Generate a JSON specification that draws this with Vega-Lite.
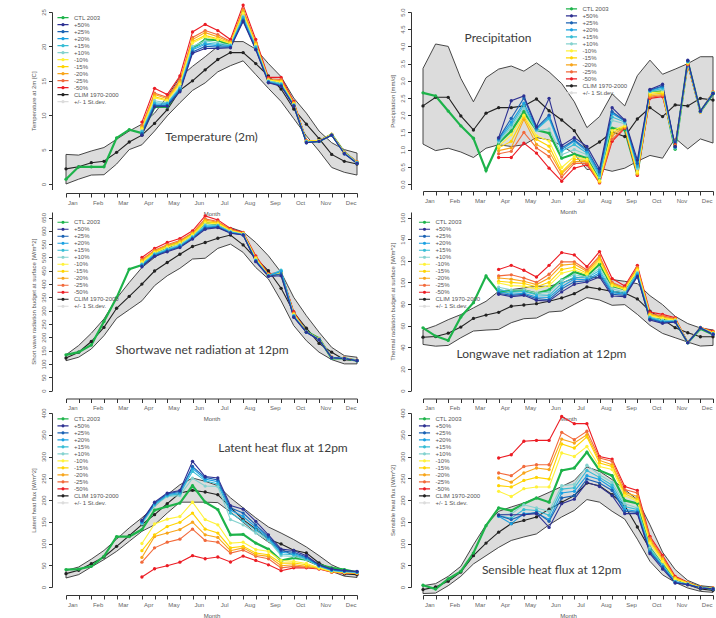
{
"$schema": "https://vega.github.io/schema/vega-lite/v6.json",
"padding": {"left": 30, "top": 2, "right": 0, "bottom": 0},
"background": "white",
"datasets": {
"t": [
{"x":1,"c":0.7,"m":2.2,"lo":0,"hi":4.3},
{"x":2,"c":2.5,"m":2.5,"lo":0.7,"hi":4.2},
{"x":3,"c":2.5,"m":3.1,"lo":1.3,"hi":4.8},
{"x":4,"c":2.5,"m":3.3,"lo":1.35,"hi":5.3},
{"x":5,"c":6.7,"m":4.6,"lo":2.9,"hi":6.5},
{"x":6,"c":7.9,"m":6.1,"lo":5.0,"hi":7.7},
{"x":7,"c":7.4,"m":7.1,"lo":5.7,"hi":8.7,"-50%":9.0,"-25%":8.5,"-20%":8.3,"-15%":8.1,"-10%":8.0,"+10%":7.7,"+15%":7.6,"+20%":7.4,"+25%":7.3,"+50%":7.1},
{"x":8,"c":11.2,"m":8.8,"lo":7.7,"hi":10.3,"-50%":13.9,"-25%":13.2,"-20%":13.0,"-15%":12.7,"-10%":12.5,"+10%":12.1,"+15%":11.8,"+20%":11.6,"+25%":11.4,"+50%":11.2},
{"x":9,"c":11.2,"m":10.8,"lo":9.9,"hi":12.7,"-50%":13.0,"-25%":12.6,"-20%":12.4,"-15%":12.2,"-10%":12.1,"+10%":11.8,"+15%":11.7,"+20%":11.6,"+25%":11.4,"+50%":11.3},
{"x":10,"c":13.8,"m":13.6,"lo":11.8,"hi":15.5,"-50%":15.7,"-25%":15.1,"-20%":14.9,"-15%":14.7,"-10%":14.5,"+10%":14.1,"+15%":13.9,"+20%":13.8,"+25%":13.6,"+50%":13.4},
{"x":11,"c":19.7,"m":15.0,"lo":13.6,"hi":17.1,"-50%":22.1,"-25%":21.3,"-20%":21.0,"-15%":20.7,"-10%":20.5,"+10%":20.0,"+15%":19.7,"+20%":19.5,"+25%":19.2,"+50%":19.0},
{"x":12,"c":21.0,"m":16.6,"lo":14.7,"hi":18.5,"-50%":23.2,"-25%":22.3,"-20%":22.0,"-15%":21.6,"-10%":21.4,"+10%":20.8,"+15%":20.5,"+20%":20.3,"+25%":20.0,"+50%":19.7},
{"x":13,"c":20.9,"m":18.1,"lo":16.3,"hi":20.0,"-50%":22.3,"-25%":21.7,"-20%":21.4,"-15%":21.1,"-10%":21.0,"+10%":20.5,"+15%":20.3,"+20%":20.1,"+25%":19.9,"+50%":19.7},
{"x":14,"c":20.2,"m":19.1,"lo":17.2,"hi":20.7,"-50%":21.0,"-25%":20.7,"-20%":20.6,"-15%":20.5,"-10%":20.4,"+10%":20.2,"+15%":20.1,"+20%":20.0,"+25%":19.9,"+50%":19.8},
{"x":15,"c":25.0,"m":19.1,"lo":17.9,"hi":20.7,"-50%":26.0,"-25%":25.4,"-20%":25.2,"-15%":24.9,"-10%":24.8,"+10%":24.4,"+15%":24.2,"+20%":24.0,"+25%":23.8,"+50%":23.6},
{"x":16,"c":20.0,"m":17.5,"lo":15.9,"hi":19.6,"-50%":21.0,"-25%":20.6,"-20%":20.5,"-15%":20.3,"-10%":20.2,"+10%":20.0,"+15%":19.9,"+20%":19.7,"+25%":19.6,"+50%":19.5},
{"x":17,"c":15.2,"m":15.7,"lo":13.9,"hi":17.5,"-50%":15.5,"-25%":15.3,"-20%":15.2,"-15%":15.1,"-10%":15.1,"+10%":15.0,"+15%":14.9,"+20%":14.8,"+25%":14.8,"+50%":14.7},
{"x":18,"c":14.6,"m":13.8,"lo":12.0,"hi":15.6,"-50%":15.5,"-25%":15.2,"-20%":15.0,"-15%":14.9,"-10%":14.8,"+10%":14.6,"+15%":14.5,"+20%":14.4,"+25%":14.3,"+50%":14.2},
{"x":19,"c":11.5,"m":10.9,"lo":9.5,"hi":12.5,"-50%":12.0,"-25%":11.8,"-20%":11.8,"-15%":11.7,"-10%":11.6,"+10%":11.5,"+15%":11.5,"+20%":11.4,"+25%":11.4,"+50%":11.3},
{"x":20,"c":6.2,"m":8.7,"lo":7.0,"hi":10.3,"-50%":6.3,"-25%":6.3,"-20%":6.2,"-15%":6.2,"-10%":6.2,"+10%":6.1,"+15%":6.1,"+20%":6.1,"+25%":6.0,"+50%":6.0},
{"x":21,"c":6.2,"m":6.6,"lo":4.8,"hi":7.7,"-50%":6.3,"-25%":6.3,"-20%":6.3,"-15%":6.3,"-10%":6.3,"+10%":6.2,"+15%":6.2,"+20%":6.2,"+25%":6.2,"+50%":6.2},
{"x":22,"c":7.2,"m":4.3,"lo":2.4,"hi":6.0,"-50%":7.2,"-25%":7.2,"-20%":7.2,"-15%":7.2,"-10%":7.2,"+10%":7.1,"+15%":7.1,"+20%":7.1,"+25%":7.1,"+50%":7.1},
{"x":23,"c":4.6,"m":3.3,"lo":1.7,"hi":5.0,"-50%":4.6,"-25%":4.6,"-20%":4.6,"-15%":4.5,"-10%":4.5,"+10%":4.5,"+15%":4.5,"+20%":4.4,"+25%":4.4,"+50%":4.4},
{"x":24,"c":3.1,"m":2.9,"lo":1.3,"hi":4.5,"-50%":3.2,"-25%":3.2,"-20%":3.2,"-15%":3.1,"-10%":3.1,"+10%":3.1,"+15%":3.1,"+20%":3.0,"+25%":3.0,"+50%":3.0}
],
"p": [
{"x":1,"c":2.65,"m":2.27,"lo":1.16,"hi":3.36},
{"x":2,"c":2.56,"m":2.52,"lo":0.97,"hi":4.07},
{"x":3,"c":2.12,"m":2.52,"lo":1.04,"hi":4.0},
{"x":4,"c":1.69,"m":1.98,"lo":0.93,"hi":3.07},
{"x":5,"c":1.33,"m":1.57,"lo":0.77,"hi":2.39},
{"x":6,"c":0.39,"m":2.06,"lo":1.04,"hi":3.09},
{"x":7,"c":1.19,"m":2.22,"lo":1.14,"hi":3.34,"+50%":1.35,"+25%":1.32,"+20%":1.3,"+15%":1.27,"+10%":1.22,"-10%":1.1,"-15%":1.05,"-20%":0.97,"-25%":0.88,"-50%":0.77},
{"x":8,"c":1.54,"m":2.22,"lo":1.09,"hi":3.43,"+50%":2.42,"+25%":1.91,"+20%":1.8,"+15%":1.72,"+10%":1.65,"-10%":1.43,"-15%":1.24,"-20%":1.05,"-25%":0.95,"-50%":0.77},
{"x":9,"c":2.1,"m":2.27,"lo":1.14,"hi":3.28,"+50%":2.56,"+25%":2.5,"+20%":2.35,"+15%":2.28,"+10%":2.2,"-10%":2.0,"-15%":1.95,"-20%":1.88,"-25%":1.5,"-50%":1.19},
{"x":10,"c":1.57,"m":2.47,"lo":1.35,"hi":3.52,"+50%":1.67,"+25%":1.63,"+20%":1.6,"+15%":1.58,"+10%":1.55,"-10%":1.4,"-15%":1.3,"-20%":1.15,"-25%":1.05,"-50%":0.9},
{"x":11,"c":1.48,"m":2.13,"lo":1.28,"hi":3.26,"+50%":2.49,"+25%":2.0,"+20%":1.95,"+15%":1.9,"+10%":1.6,"-10%":1.25,"-15%":1.1,"-20%":0.95,"-25%":0.8,"-50%":0.46},
{"x":12,"c":0.75,"m":1.86,"lo":1.12,"hi":2.92,"+50%":1.12,"+25%":1.05,"+20%":1.0,"+15%":0.95,"+10%":0.85,"-10%":0.48,"-15%":0.35,"-20%":0.3,"-25%":0.2,"-50%":0.08},
{"x":13,"c":0.87,"m":1.55,"lo":0.87,"hi":2.39,"+50%":1.35,"+25%":1.28,"+20%":1.25,"+15%":1.15,"+10%":1.0,"-10%":0.8,"-15%":0.72,"-20%":0.65,"-25%":0.6,"-50%":0.46},
{"x":14,"c":0.75,"m":0.99,"lo":0.42,"hi":1.64,"+50%":1.09,"+25%":1.0,"+20%":0.95,"+15%":0.9,"+10%":0.85,"-10%":0.72,"-15%":0.68,"-20%":0.65,"-25%":0.6,"-50%":0.56},
{"x":15,"c":0.13,"m":1.22,"lo":0.46,"hi":1.96,"+50%":0.44,"+25%":0.35,"+20%":0.3,"+15%":0.25,"+10%":0.2,"-10%":0.1,"-15%":0.08,"-20%":0.06,"-25%":0.05,"-50%":0.03},
{"x":16,"c":1.62,"m":1.51,"lo":0.37,"hi":2.62,"+50%":2.22,"+25%":2.1,"+20%":2.05,"+15%":1.95,"+10%":1.85,"-10%":1.55,"-15%":1.48,"-20%":1.4,"-25%":1.3,"-50%":1.24},
{"x":17,"c":1.57,"m":1.38,"lo":0.46,"hi":2.27,"+50%":1.86,"+25%":1.84,"+20%":1.83,"+15%":1.8,"+10%":1.75,"-10%":1.7,"-15%":1.68,"-20%":1.66,"-25%":1.64,"-50%":1.62},
{"x":18,"c":0.27,"m":1.89,"lo":0.66,"hi":3.15,"+50%":0.7,"+25%":0.6,"+20%":0.55,"+15%":0.5,"+10%":0.45,"-10%":0.35,"-15%":0.32,"-20%":0.3,"-25%":0.28,"-50%":0.25},
{"x":19,"c":2.68,"m":2.22,"lo":0.83,"hi":3.6,"+50%":2.75,"+25%":2.73,"+20%":2.72,"+15%":2.7,"+10%":2.69,"-10%":2.65,"-15%":2.6,"-20%":2.56,"-25%":2.52,"-50%":2.49},
{"x":20,"c":2.7,"m":1.96,"lo":0.75,"hi":3.19,"+50%":2.9,"+25%":2.85,"+20%":2.82,"+15%":2.78,"+10%":2.74,"-10%":2.68,"-15%":2.64,"-20%":2.6,"-25%":2.57,"-50%":2.54},
{"x":21,"c":1.01,"m":2.3,"lo":1.33,"hi":3.34,"+50%":1.09,"+25%":1.08,"+20%":1.07,"+15%":1.06,"+10%":1.05,"-10%":1.06,"-15%":1.08,"-20%":1.1,"-25%":1.12,"-50%":1.14},
{"x":22,"c":3.55,"m":2.27,"lo":1.02,"hi":3.5,"+50%":3.6,"+25%":3.58,"+20%":3.57,"+15%":3.56,"+10%":3.55,"-10%":3.53,"-15%":3.52,"-20%":3.5,"-25%":3.48,"-50%":3.47},
{"x":23,"c":2.1,"m":2.49,"lo":1.31,"hi":3.7,"+50%":2.12,"+25%":2.12,"+20%":2.11,"+15%":2.11,"+10%":2.11,"-10%":2.1,"-15%":2.1,"-20%":2.1,"-25%":2.1,"-50%":2.1},
{"x":24,"c":2.62,"m":2.44,"lo":1.19,"hi":3.7,"+50%":2.63,"+25%":2.63,"+20%":2.64,"+15%":2.64,"+10%":2.65,"-10%":2.66,"-15%":2.66,"-20%":2.67,"-25%":2.67,"-50%":2.68}
],
"sw": [
{"x":1,"c":134,"m":122,"lo":112,"hi":134},
{"x":2,"c":144,"m":144,"lo":125,"hi":169},
{"x":3,"c":171,"m":184,"lo":156,"hi":215},
{"x":4,"c":259,"m":237,"lo":206,"hi":269},
{"x":5,"c":349,"m":309,"lo":271,"hi":346},
{"x":6,"c":456,"m":354,"lo":304,"hi":406},
{"x":7,"c":471,"m":400,"lo":337,"hi":462,"-50%":500,"-25%":492,"-20%":489,"-15%":485,"-10%":482,"+10%":476,"+15%":473,"+20%":471,"+25%":468,"+50%":465},
{"x":8,"c":515,"m":449,"lo":394,"hi":500,"-50%":534,"-25%":527,"-20%":524,"-15%":521,"-10%":518,"+10%":514,"+15%":511,"+20%":509,"+25%":506,"+50%":504},
{"x":9,"c":540,"m":481,"lo":431,"hi":531,"-50%":556,"-25%":548,"-20%":545,"-15%":541,"-10%":538,"+10%":532,"+15%":529,"+20%":527,"+25%":524,"+50%":521},
{"x":10,"c":556,"m":512,"lo":459,"hi":562,"-50%":571,"-25%":564,"-20%":560,"-15%":557,"-10%":553,"+10%":548,"+15%":545,"+20%":542,"+25%":540,"+50%":537},
{"x":11,"c":587,"m":541,"lo":494,"hi":587,"-50%":600,"-25%":593,"-20%":590,"-15%":587,"-10%":584,"+10%":579,"+15%":576,"+20%":574,"+25%":571,"+50%":569},
{"x":12,"c":630,"m":556,"lo":497,"hi":609,"-50%":656,"-25%":645,"-20%":640,"-15%":635,"-10%":630,"+10%":622,"+15%":618,"+20%":614,"+25%":610,"+50%":606},
{"x":13,"c":625,"m":572,"lo":534,"hi":616,"-50%":641,"-25%":635,"-20%":632,"-15%":629,"-10%":626,"+10%":621,"+15%":619,"+20%":617,"+25%":614,"+50%":612},
{"x":14,"c":600,"m":584,"lo":550,"hi":612,"-50%":609,"-25%":605,"-20%":603,"-15%":601,"-10%":600,"+10%":597,"+15%":595,"+20%":594,"+25%":592,"+50%":591},
{"x":15,"c":588,"m":547,"lo":519,"hi":596,"-50%":594,"-25%":592,"-20%":591,"-15%":590,"-10%":589,"+10%":587,"+15%":586,"+20%":585,"+25%":585,"+50%":584},
{"x":16,"c":495,"m":496,"lo":462,"hi":556,"-50%":506,"-25%":501,"-20%":499,"-15%":497,"-10%":495,"+10%":491,"+15%":489,"+20%":488,"+25%":486,"+50%":484},
{"x":17,"c":432,"m":450,"lo":419,"hi":506,"-50%":438,"-25%":436,"-20%":435,"-15%":434,"-10%":433,"+10%":432,"+15%":432,"+20%":431,"+25%":430,"+50%":429},
{"x":18,"c":440,"m":384,"lo":337,"hi":444,"-50%":445,"-25%":444,"-20%":443,"-15%":442,"-10%":441,"+10%":448,"+15%":452,"+20%":447,"+25%":438,"+50%":431},
{"x":19,"c":285,"m":294,"lo":244,"hi":350,"-50%":296,"-25%":291,"-20%":289,"-15%":287,"-10%":285,"+10%":282,"+15%":280,"+20%":279,"+25%":277,"+50%":275},
{"x":20,"c":222,"m":234,"lo":187,"hi":281,"-50%":221,"-25%":221,"-20%":221,"-15%":220,"-10%":220,"+10%":220,"+15%":220,"+20%":219,"+25%":219,"+50%":219},
{"x":21,"c":196,"m":177,"lo":144,"hi":219,"-50%":194,"-25%":194,"-20%":194,"-15%":193,"-10%":193,"+10%":193,"+15%":192,"+20%":192,"+25%":191,"+50%":190},
{"x":22,"c":121,"m":144,"lo":116,"hi":162,"-50%":125,"-25%":125,"-20%":124,"-15%":124,"-10%":124,"+10%":124,"+15%":124,"+20%":123,"+25%":123,"+50%":123},
{"x":23,"c":121,"m":116,"lo":100,"hi":131,"-50%":122,"-25%":122,"-20%":122,"-15%":121,"-10%":121,"+10%":121,"+15%":121,"+20%":121,"+25%":120,"+50%":120},
{"x":24,"c":112,"m":112,"lo":100,"hi":125,"-50%":113,"-25%":113,"-20%":113,"-15%":112,"-10%":112,"+10%":112,"+15%":112,"+20%":112,"+25%":112,"+50%":112}
],
"lw": [
{"x":1,"c":58,"m":49.3,"lo":42.6,"hi":56},
{"x":2,"c":50.3,"m":49.9,"lo":41,"hi":60},
{"x":3,"c":46.3,"m":53,"lo":41.7,"hi":65.5},
{"x":4,"c":68,"m":58.7,"lo":48.8,"hi":70.2},
{"x":5,"c":81.2,"m":66.7,"lo":55,"hi":76.4},
{"x":6,"c":105.9,"m":69.8,"lo":55.9,"hi":82.5},
{"x":7,"c":91,"m":72.3,"lo":56.5,"hi":91.8,"-50%":112,"-25%":106,"-20%":104,"-15%":101,"-10%":99.5,"+10%":95.5,"+15%":93.5,"+20%":91.5,"+25%":90,"+50%":89},
{"x":8,"c":92,"m":77.9,"lo":62.7,"hi":93.3,"-50%":115.8,"-25%":107,"-20%":103,"-15%":100,"-10%":97,"+10%":93,"+15%":91,"+20%":89,"+25%":88,"+50%":86.8},
{"x":9,"c":92.7,"m":79.1,"lo":66.4,"hi":94.9,"-50%":111.2,"-25%":104,"-20%":101,"-15%":99,"-10%":96.5,"+10%":93,"+15%":91.5,"+20%":90,"+25%":89,"+50%":88},
{"x":10,"c":89.8,"m":80.3,"lo":67,"hi":96.4,"-50%":105,"-25%":100,"-20%":98,"-15%":96,"-10%":94,"+10%":90,"+15%":88.5,"+20%":86.5,"+25%":85,"+50%":83.4},
{"x":11,"c":93,"m":82.5,"lo":72.6,"hi":96.4,"-50%":115.8,"-25%":107.5,"-20%":104,"-15%":100,"-10%":97,"+10%":91,"+15%":88,"+20%":86,"+25%":84,"+50%":82.8},
{"x":12,"c":102.2,"m":85.6,"lo":73.5,"hi":99.5,"-50%":127.6,"-25%":119,"-20%":116,"-15%":112,"-10%":108.5,"+10%":102,"+15%":99,"+20%":96,"+25%":94,"+50%":91.2},
{"x":13,"c":109.6,"m":89.6,"lo":79.7,"hi":104,"-50%":125.4,"-25%":119,"-20%":117,"-15%":114,"-10%":111.5,"+10%":107,"+15%":105,"+20%":103,"+25%":100.5,"+50%":98.3},
{"x":14,"c":105.9,"m":95.8,"lo":85.9,"hi":105.7,"-50%":114.6,"-25%":111.5,"-20%":110,"-15%":108.5,"-10%":107.5,"+10%":105,"+15%":104,"+20%":102.5,"+25%":101.5,"+50%":100.4},
{"x":15,"c":116.8,"m":93.9,"lo":83.7,"hi":104,"-50%":128.5,"-25%":124.5,"-20%":123,"-15%":121,"-10%":119,"+10%":113,"+15%":111,"+20%":109,"+25%":107,"+50%":105},
{"x":16,"c":96.7,"m":91.7,"lo":78.8,"hi":102.6,"-50%":103.5,"-25%":100,"-20%":99,"-15%":98,"-10%":97,"+10%":94,"+15%":92,"+20%":90.5,"+25%":89,"+50%":87.4},
{"x":17,"c":93.6,"m":90.1,"lo":79.4,"hi":101,"-50%":96.7,"-25%":95,"-20%":94.5,"-15%":94,"-10%":93.5,"+10%":91,"+15%":90,"+20%":89,"+25%":88,"+50%":86.8},
{"x":18,"c":108,"m":84.7,"lo":70.4,"hi":98.8,"-50%":115.8,"-25%":114,"-20%":113,"-15%":112,"-10%":111,"+10%":109,"+15%":108,"+20%":107,"+25%":106,"+50%":105.3},
{"x":19,"c":66.4,"m":73.5,"lo":60.2,"hi":87.7,"-50%":72.6,"-25%":71,"-20%":70.5,"-15%":70,"-10%":69,"+10%":68,"+15%":67.5,"+20%":66.5,"+25%":66,"+50%":65.2},
{"x":20,"c":65.8,"m":65.8,"lo":52.8,"hi":79.4,"-50%":70.4,"-25%":69,"-20%":68,"-15%":67,"-10%":66.5,"+10%":65,"+15%":64,"+20%":63.5,"+25%":63,"+50%":62.1},
{"x":21,"c":64.2,"m":58.1,"lo":48.8,"hi":68.6,"-50%":67.3,"-25%":66.5,"-20%":66,"-15%":65.5,"-10%":65,"+10%":64.5,"+15%":64,"+20%":64,"+25%":63.5,"+50%":63.3},
{"x":22,"c":44.2,"m":53.4,"lo":44.8,"hi":61.9,"-50%":44.5,"-25%":44.5,"-20%":44.4,"-15%":44.4,"-10%":44.3,"+10%":44.3,"+15%":44.2,"+20%":44.2,"+25%":44.2,"+50%":44.2},
{"x":23,"c":57.1,"m":49.7,"lo":41.1,"hi":57.8,"-50%":58.3,"-25%":58.3,"-20%":58.2,"-15%":58.2,"-10%":58.1,"+10%":58.1,"+15%":58,"+20%":58,"+25%":57.9,"+50%":57.9},
{"x":24,"c":51.9,"m":49.7,"lo":41.7,"hi":56,"-50%":55,"-25%":54,"-20%":54,"-15%":53.5,"-10%":53,"+10%":52.5,"+15%":52.5,"+20%":52,"+25%":52,"+50%":51.9}
],
"le": [
{"x":1,"c":40,"m":30.7,"lo":20.7,"hi":38},
{"x":2,"c":41,"m":38.3,"lo":28.4,"hi":46},
{"x":3,"c":47.5,"m":53.6,"lo":46,"hi":64},
{"x":4,"c":70.5,"m":69,"lo":63,"hi":84},
{"x":5,"c":116,"m":93.5,"lo":82,"hi":110},
{"x":6,"c":116,"m":118,"lo":105,"hi":136},
{"x":7,"c":132,"m":143.3,"lo":128,"hi":159,"+50%":153,"+25%":151,"+20%":149,"+15%":147,"+10%":145,"-10%":100,"-15%":83.5,"-20%":68,"-25%":57,"-50%":23},
{"x":8,"c":176.6,"m":166.3,"lo":143,"hi":185,"+50%":195,"+25%":193,"+20%":191,"+15%":189,"+10%":187,"-10%":145,"-15%":120,"-20%":116,"-25%":90,"-50%":42},
{"x":9,"c":185,"m":191.6,"lo":170,"hi":212,"+50%":216,"+25%":214,"+20%":212,"+15%":210,"+10%":208,"-10%":156,"-15%":139,"-20%":124,"-25%":103,"-50%":49},
{"x":10,"c":193,"m":216,"lo":195,"hi":235,"+50%":222,"+25%":220,"+20%":217,"+15%":214,"+10%":210,"-10%":162,"-15%":148.6,"-20%":132,"-25%":110,"-50%":57},
{"x":11,"c":233,"m":222.2,"lo":195,"hi":250.5,"+50%":289,"+25%":277,"+20%":273,"+15%":266,"+10%":250,"-10%":195,"-15%":170,"-20%":149,"-25%":133,"-50%":72},
{"x":12,"c":195,"m":218.4,"lo":195,"hi":243,"+50%":254,"+25%":252,"+20%":248,"+15%":244,"+10%":232,"-10%":155,"-15%":133,"-20%":120,"-25%":107,"-50%":65},
{"x":13,"c":178,"m":212.3,"lo":194,"hi":233,"+50%":250.5,"+25%":246,"+20%":242,"+15%":237,"+10%":231,"-10%":143,"-15%":124,"-20%":114,"-25%":103,"-50%":69},
{"x":14,"c":120,"m":183,"lo":172,"hi":205,"+50%":187,"+25%":182,"+20%":177,"+15%":170,"+10%":155,"-10%":101,"-15%":90,"-20%":83.5,"-25%":78,"-50%":57.5},
{"x":15,"c":121,"m":155,"lo":149,"hi":182,"+50%":179,"+25%":170,"+20%":162,"+15%":152,"+10%":143,"-10%":103,"-15%":93.5,"-20%":90,"-25%":85,"-50%":71},
{"x":16,"c":101,"m":133,"lo":124,"hi":159,"+50%":151,"+25%":143,"+20%":138,"+15%":131,"+10%":124,"-10%":86,"-15%":78,"-20%":74,"-25%":70.5,"-50%":61},
{"x":17,"c":87,"m":110,"lo":103,"hi":138,"+50%":120,"+25%":116,"+20%":113,"+15%":110,"+10%":107,"-10%":82,"-15%":74,"-20%":70.5,"-25%":65,"-50%":51},
{"x":18,"c":61,"m":99,"lo":87,"hi":124,"+50%":87,"+25%":83,"+20%":80,"+15%":76,"+10%":72,"-10%":61,"-15%":55,"-20%":49,"-25%":44,"-50%":37.5},
{"x":19,"c":67,"m":84.3,"lo":72,"hi":109,"+50%":84,"+25%":80,"+20%":77,"+15%":74,"+10%":70.5,"-10%":59,"-15%":55,"-20%":51,"-25%":47.5,"-50%":44},
{"x":20,"c":63,"m":78.2,"lo":61,"hi":92,"+50%":72,"+25%":69,"+20%":67,"+15%":65,"+10%":63,"-10%":54,"-15%":51,"-20%":47.5,"-25%":46,"-50%":44},
{"x":21,"c":51,"m":55.2,"lo":48,"hi":72,"+50%":51,"+25%":50,"+20%":49,"+15%":48,"+10%":47.5,"-10%":44,"-15%":43.5,"-20%":43,"-25%":42,"-50%":41.4},
{"x":22,"c":44,"m":41.4,"lo":36,"hi":51,"+50%":41.4,"+25%":40,"+20%":39,"+15%":38,"+10%":37.5,"-10%":36.5,"-15%":36,"-20%":35,"-25%":34.5,"-50%":34},
{"x":23,"c":40,"m":29.9,"lo":25,"hi":38,"+50%":38,"+25%":37,"+20%":36,"+15%":35.5,"+10%":35,"-10%":34,"-15%":33.5,"-20%":33,"-25%":32.5,"-50%":32},
{"x":24,"c":34,"m":28.4,"lo":22,"hi":32,"+50%":36,"+25%":35,"+20%":34.5,"+15%":34,"+10%":33.5,"-10%":33,"-15%":32.5,"-20%":32,"-25%":31.5,"-50%":31}
],
"h": [
{"x":1,"c":4,"m":-6,"lo":-15,"hi":3},
{"x":2,"c":-4.6,"m":0,"lo":-14,"hi":7.7},
{"x":3,"c":18.4,"m":13,"lo":3,"hi":24.5},
{"x":4,"c":36,"m":34.5,"lo":24.5,"hi":47.5},
{"x":5,"c":78,"m":72,"lo":53,"hi":97},
{"x":6,"c":141,"m":101,"lo":72,"hi":143},
{"x":7,"c":181.6,"m":126,"lo":91,"hi":174,"-50%":296.6,"-25%":262,"-20%":250.6,"-15%":233,"-10%":220,"+10%":166,"+15%":164,"+20%":162.5,"+25%":164,"+50%":166},
{"x":8,"c":175.5,"m":145.6,"lo":107,"hi":184,"-50%":304,"-25%":256,"-20%":241,"-15%":230,"-10%":208,"+10%":168,"+15%":158,"+20%":145.6,"+25%":155,"+50%":166},
{"x":9,"c":191.6,"m":153,"lo":115,"hi":193,"-50%":335,"-25%":277,"-20%":262,"-15%":245,"-10%":226,"+10%":189,"+15%":178,"+20%":168.6,"+25%":166,"+50%":166},
{"x":10,"c":204.6,"m":161,"lo":122,"hi":204.6,"-50%":337,"-25%":281,"-20%":273.6,"-15%":252,"-10%":230,"+10%":181.6,"+15%":176,"+20%":170,"+25%":171.6,"+50%":168.6},
{"x":11,"c":195,"m":179,"lo":143,"hi":217.6,"-50%":337,"-25%":281,"-20%":270,"-15%":248,"-10%":230,"+10%":174,"+15%":165,"+20%":155,"+25%":151,"+50%":137},
{"x":12,"c":268,"m":195,"lo":161,"hi":231,"-50%":392,"-25%":355.6,"-20%":340,"-15%":328.7,"-10%":308,"+10%":233,"+15%":225,"+20%":216,"+25%":204.6,"+50%":191.6},
{"x":13,"c":273.6,"m":210,"lo":176,"hi":245,"-50%":375.5,"-25%":338.7,"-20%":331,"-15%":319.5,"-10%":300,"+10%":235.6,"+15%":228,"+20%":220,"+25%":210,"+50%":202},
{"x":14,"c":310,"m":239,"lo":201,"hi":276,"-50%":375.5,"-25%":358,"-20%":350,"-15%":345,"-10%":323,"+10%":280,"+15%":268,"+20%":256,"+25%":248,"+50%":240.6},
{"x":15,"c":268,"m":233,"lo":195,"hi":266,"-50%":300,"-25%":296.6,"-20%":291,"-15%":285,"-10%":277,"+10%":258,"+15%":252,"+20%":247,"+25%":239,"+50%":231},
{"x":16,"c":256,"m":212,"lo":174,"hi":247,"-50%":294,"-25%":289,"-20%":281,"-15%":277,"-10%":270,"+10%":240.6,"+15%":234,"+20%":227.6,"+25%":222,"+50%":210},
{"x":17,"c":199,"m":187,"lo":156,"hi":224,"-50%":231,"-25%":224,"-20%":217.6,"-15%":214.6,"-10%":210,"+10%":191.6,"+15%":185,"+20%":178,"+25%":174,"+50%":168.6},
{"x":18,"c":192,"m":138,"lo":110,"hi":201,"-50%":222,"-25%":216,"-20%":208,"-15%":200.8,"-10%":197,"+10%":181.6,"+15%":178,"+20%":174,"+25%":171.6,"+50%":168.6},
{"x":19,"c":89.6,"m":87,"lo":59,"hi":143,"-50%":116.5,"-25%":112.6,"-20%":108.8,"-15%":105,"-10%":101,"+10%":89.6,"+15%":86,"+20%":82,"+25%":80,"+50%":76.6},
{"x":20,"c":51,"m":46,"lo":28,"hi":80,"-50%":72.8,"-25%":69,"-20%":65,"-15%":62.8,"-10%":59,"+10%":51,"+15%":49,"+20%":47.5,"+25%":46,"+50%":41.4},
{"x":21,"c":20.7,"m":18.4,"lo":10.7,"hi":40,"-50%":24.5,"-25%":22,"-20%":21,"-15%":19.5,"-10%":18,"+10%":13,"+15%":12,"+20%":11,"+25%":10,"+50%":9.2},
{"x":22,"c":9.2,"m":5.4,"lo":-2.3,"hi":15,"-50%":10.7,"-25%":10,"-20%":9.5,"-15%":9,"-10%":8.5,"+10%":7,"+15%":6.5,"+20%":6,"+25%":5.8,"+50%":5.4},
{"x":23,"c":0,"m":-4.6,"lo":-10,"hi":3,"-50%":0,"-25%":-0.3,"-20%":-0.5,"-15%":-0.8,"-10%":-1,"+10%":-1.5,"+15%":-1.7,"+20%":-2,"+25%":-2.1,"+50%":-2.3},
{"x":24,"c":-4.6,"m":-7.7,"lo":-12.3,"hi":0,"-50%":-2.3,"-25%":-2.5,"-20%":-2.8,"-15%":-3,"-10%":-3.3,"+10%":-3.7,"+15%":-4,"+20%":-4.2,"+25%":-4.4,"+50%":-4.6}
]
},
"columns": 2,
"spacing": {"row": 22, "column": 66},
"bounds": "flush",
"resolve": {"scale": {"color": "independent"}, "legend": {"color": "independent"}},
"concat": [
{"width": 291, "height": 177.5, "data": {"name": "t"}, "layer": [
{"mark": {"type": "area", "stroke": "#333333", "strokeWidth": 0.9}, "encoding": {
"x": {"field": "x", "type": "quantitative", "scale": {"domain": [1, 24], "nice": false, "zero": false}, "axis": {"values": [1,1.5,2,3,3.5,4,5,5.5,6,7,7.5,8,9,9.5,10,11,11.5,12,13,13.5,14,15,15.5,16,17,17.5,18,19,19.5,20,21,21.5,22,23,23.5,24], "labelExpr": "datum.value % 1 ? ['Jan','Feb','Mar','Apr','May','Jun','Jul','Aug','Sep','Oct','Nov','Dec'][(datum.value-1.5)/2] : ''", "labelOverlap": false, "tickOpacity": {"condition": {"test": "datum.value % 1 != 0", "value": 0}, "value": 1}, "title": "Month", "offset": 3.5}},
"y": {"field": "lo", "type": "quantitative", "scale": {"domain": [-0.8, 25], "nice": false, "zero": false}, "axis": {"values": [0,5,10,15,20,25], "labelOverlap": false, "title": "Temperature at 2m [C]", "offset": 14}},
"y2": {"field": "hi"},
"color": {"datum": "+/- 1 St.dev."}}},
{"transform": [{"fold": ["m","c","-50%","-25%","-20%","-15%","-10%","+10%","+15%","+20%","+25%","+50%"], "as": ["s", "v"]}], "mark": {"type": "line", "point": {"filled": true, "size": 11}}, "encoding": {
"x": {"field": "x", "type": "quantitative", "axis": {"values": [1,1.5,2,3,3.5,4,5,5.5,6,7,7.5,8,9,9.5,10,11,11.5,12,13,13.5,14,15,15.5,16,17,17.5,18,19,19.5,20,21,21.5,22,23,23.5,24], "labelExpr": "datum.value % 1 ? ['Jan','Feb','Mar','Apr','May','Jun','Jul','Aug','Sep','Oct','Nov','Dec'][(datum.value-1.5)/2] : ''", "labelOverlap": false, "tickOpacity": {"condition": {"test": "datum.value % 1 != 0", "value": 0}, "value": 1}, "title": "Month", "offset": 3.5}},
"y": {"field": "v", "type": "quantitative", "axis": {"values": [0,5,10,15,20,25], "labelOverlap": false, "title": "Temperature at 2m [C]", "offset": 14}},
"strokeWidth": {"condition": {"test": "datum.s == 'c'", "value": 2.2}, "value": 1.1},
"color": {"field": "s", "type": "nominal", "scale": {"domain": ["c","+50%","+25%","+20%","+15%","+10%","-10%","-15%","-20%","-25%","-50%","m","+/- 1 St.dev."], "range": ["#1db34a","#2e3192","#1b62b4","#1ba1e2","#36bdd5","#85d2cf","#fff23a","#ffd400","#f8a51b","#f26a3b","#ec1c24","#222222","#dcdcdc"]}, "legend": {"orient": "none", "legendX": -6, "legendY": 2.7, "labelExpr": "datum.label == 'c' ? 'CTL 2003' : datum.label == 'm' ? 'CLIM 1970-2000' : datum.label"}}}},
{"data": {"values": [{"t": "Temperature (2m)"}]}, "mark": {"type": "text", "fontSize": 12, "font": "Lato", "color": "#3c3c3c"}, "encoding": {
"x": {"datum": 12.5, "type": "quantitative", "axis": {"values": [1,1.5,2,3,3.5,4,5,5.5,6,7,7.5,8,9,9.5,10,11,11.5,12,13,13.5,14,15,15.5,16,17,17.5,18,19,19.5,20,21,21.5,22,23,23.5,24], "labelExpr": "datum.value % 1 ? ['Jan','Feb','Mar','Apr','May','Jun','Jul','Aug','Sep','Oct','Nov','Dec'][(datum.value-1.5)/2] : ''", "labelOverlap": false, "tickOpacity": {"condition": {"test": "datum.value % 1 != 0", "value": 0}, "value": 1}, "title": "Month", "offset": 3.5}},
"y": {"datum": 6.8, "type": "quantitative", "axis": {"values": [0,5,10,15,20,25], "labelOverlap": false, "title": "Temperature at 2m [C]", "offset": 14}},
"text": {"field": "t"}}}
]},
{"width": 290, "height": 177.5, "data": {"name": "p"}, "layer": [
{"mark": {"type": "area", "stroke": "#333333", "strokeWidth": 0.9}, "encoding": {
"x": {"field": "x", "type": "quantitative", "scale": {"domain": [1, 24], "nice": false, "zero": false}, "axis": {"values": [1,1.5,2,3,3.5,4,5,5.5,6,7,7.5,8,9,9.5,10,11,11.5,12,13,13.5,14,15,15.5,16,17,17.5,18,19,19.5,20,21,21.5,22,23,23.5,24], "labelExpr": "datum.value % 1 ? ['Jan','Feb','Mar','Apr','May','Jun','Jul','Aug','Sep','Oct','Nov','Dec'][(datum.value-1.5)/2] : ''", "labelOverlap": false, "tickOpacity": {"condition": {"test": "datum.value % 1 != 0", "value": 0}, "value": 1}, "title": "Month", "offset": 1.5}},
"y": {"field": "lo", "type": "quantitative", "scale": {"domain": [-0.16, 5], "nice": false, "zero": false}, "axis": {"values": [0,0.5,1,1.5,2,2.5,3,3.5,4,4.5,5], "format": ".1f", "labelOverlap": false, "title": "Precipitation [mm/d]", "offset": 12}},
"y2": {"field": "hi"},
"color": {"datum": "+/- 1 St.dev."}}},
{"transform": [{"fold": ["m","c","-50%","-25%","-20%","-15%","-10%","+10%","+15%","+20%","+25%","+50%"], "as": ["s", "v"]}], "mark": {"type": "line", "point": {"filled": true, "size": 11}}, "encoding": {
"x": {"field": "x", "type": "quantitative", "axis": {"values": [1,1.5,2,3,3.5,4,5,5.5,6,7,7.5,8,9,9.5,10,11,11.5,12,13,13.5,14,15,15.5,16,17,17.5,18,19,19.5,20,21,21.5,22,23,23.5,24], "labelExpr": "datum.value % 1 ? ['Jan','Feb','Mar','Apr','May','Jun','Jul','Aug','Sep','Oct','Nov','Dec'][(datum.value-1.5)/2] : ''", "labelOverlap": false, "tickOpacity": {"condition": {"test": "datum.value % 1 != 0", "value": 0}, "value": 1}, "title": "Month", "offset": 1.5}},
"y": {"field": "v", "type": "quantitative", "axis": {"values": [0,0.5,1,1.5,2,2.5,3,3.5,4,4.5,5], "format": ".1f", "labelOverlap": false, "title": "Precipitation [mm/d]", "offset": 12}},
"strokeWidth": {"condition": {"test": "datum.s == 'c'", "value": 2.2}, "value": 1.1},
"color": {"field": "s", "type": "nominal", "scale": {"domain": ["c","+50%","+25%","+20%","+15%","+10%","-10%","-15%","-20%","-25%","-50%","m","+/- 1 St.dev."], "range": ["#1db34a","#2e3192","#1b62b4","#1ba1e2","#36bdd5","#85d2cf","#fff23a","#ffd400","#f8a51b","#f26a3b","#ec1c24","#222222","#dcdcdc"]}, "legend": {"orient": "none", "legendX": 145.5, "legendY": -6.2, "labelExpr": "datum.label == 'c' ? 'CTL 2003' : datum.label == 'm' ? 'CLIM 1970-2000' : datum.label"}}}},
{"data": {"values": [{"t": "Precipitation"}]}, "mark": {"type": "text", "fontSize": 12, "font": "Lato", "color": "#3c3c3c"}, "encoding": {
"x": {"datum": 6.95, "type": "quantitative", "axis": {"values": [1,1.5,2,3,3.5,4,5,5.5,6,7,7.5,8,9,9.5,10,11,11.5,12,13,13.5,14,15,15.5,16,17,17.5,18,19,19.5,20,21,21.5,22,23,23.5,24], "labelExpr": "datum.value % 1 ? ['Jan','Feb','Mar','Apr','May','Jun','Jul','Aug','Sep','Oct','Nov','Dec'][(datum.value-1.5)/2] : ''", "labelOverlap": false, "tickOpacity": {"condition": {"test": "datum.value % 1 != 0", "value": 0}, "value": 1}, "title": "Month", "offset": 1.5}},
"y": {"datum": 4.25, "type": "quantitative", "axis": {"values": [0,0.5,1,1.5,2,2.5,3,3.5,4,4.5,5], "format": ".1f", "labelOverlap": false, "title": "Precipitation [mm/d]", "offset": 12}},
"text": {"field": "t"}}}
]},
{"width": 291, "height": 178.5, "data": {"name": "sw"}, "layer": [
{"mark": {"type": "area", "stroke": "#333333", "strokeWidth": 0.9}, "encoding": {
"x": {"field": "x", "type": "quantitative", "scale": {"domain": [1, 24], "nice": false, "zero": false}, "axis": {"values": [1,1.5,2,3,3.5,4,5,5.5,6,7,7.5,8,9,9.5,10,11,11.5,12,13,13.5,14,15,15.5,16,17,17.5,18,19,19.5,20,21,21.5,22,23,23.5,24], "labelExpr": "datum.value % 1 ? ['Jan','Feb','Mar','Apr','May','Jun','Jul','Aug','Sep','Oct','Nov','Dec'][(datum.value-1.5)/2] : ''", "labelOverlap": false, "tickOpacity": {"condition": {"test": "datum.value % 1 != 0", "value": 0}, "value": 1}, "title": "Month", "offset": 8}},
"y": {"field": "lo", "type": "quantitative", "scale": {"domain": [0, 670.7], "nice": false}, "axis": {"values": [0,50,100,150,200,250,300,350,400,450,500,550,600,650], "labelOverlap": false, "title": "Short wave radiation budget at surface [W/m^2]", "offset": 14}},
"y2": {"field": "hi"},
"color": {"datum": "+/- 1 St.dev."}}},
{"transform": [{"fold": ["m","c","-50%","-25%","-20%","-15%","-10%","+10%","+15%","+20%","+25%","+50%"], "as": ["s", "v"]}], "mark": {"type": "line", "point": {"filled": true, "size": 11}}, "encoding": {
"x": {"field": "x", "type": "quantitative", "axis": {"values": [1,1.5,2,3,3.5,4,5,5.5,6,7,7.5,8,9,9.5,10,11,11.5,12,13,13.5,14,15,15.5,16,17,17.5,18,19,19.5,20,21,21.5,22,23,23.5,24], "labelExpr": "datum.value % 1 ? ['Jan','Feb','Mar','Apr','May','Jun','Jul','Aug','Sep','Oct','Nov','Dec'][(datum.value-1.5)/2] : ''", "labelOverlap": false, "tickOpacity": {"condition": {"test": "datum.value % 1 != 0", "value": 0}, "value": 1}, "title": "Month", "offset": 8}},
"y": {"field": "v", "type": "quantitative", "axis": {"values": [0,50,100,150,200,250,300,350,400,450,500,550,600,650], "labelOverlap": false, "title": "Short wave radiation budget at surface [W/m^2]", "offset": 14}},
"strokeWidth": {"condition": {"test": "datum.s == 'c'", "value": 2.2}, "value": 1.1},
"color": {"field": "s", "type": "nominal", "scale": {"domain": ["c","+50%","+25%","+20%","+15%","+10%","-10%","-15%","-20%","-25%","-50%","m","+/- 1 St.dev."], "range": ["#1db34a","#2e3192","#1b62b4","#1ba1e2","#36bdd5","#85d2cf","#fff23a","#ffd400","#f8a51b","#f26a3b","#ec1c24","#222222","#dcdcdc"]}, "legend": {"orient": "none", "legendX": -6, "legendY": 7.25, "labelExpr": "datum.label == 'c' ? 'CTL 2003' : datum.label == 'm' ? 'CLIM 1970-2000' : datum.label"}}}},
{"data": {"values": [{"t": "Shortwave net radiation at 12pm"}]}, "mark": {"type": "text", "fontSize": 12, "font": "Lato", "color": "#3c3c3c"}, "encoding": {
"x": {"datum": 11.75, "type": "quantitative", "axis": {"values": [1,1.5,2,3,3.5,4,5,5.5,6,7,7.5,8,9,9.5,10,11,11.5,12,13,13.5,14,15,15.5,16,17,17.5,18,19,19.5,20,21,21.5,22,23,23.5,24], "labelExpr": "datum.value % 1 ? ['Jan','Feb','Mar','Apr','May','Jun','Jul','Aug','Sep','Oct','Nov','Dec'][(datum.value-1.5)/2] : ''", "labelOverlap": false, "tickOpacity": {"condition": {"test": "datum.value % 1 != 0", "value": 0}, "value": 1}, "title": "Month", "offset": 8}},
"y": {"datum": 154, "type": "quantitative", "axis": {"values": [0,50,100,150,200,250,300,350,400,450,500,550,600,650], "labelOverlap": false, "title": "Short wave radiation budget at surface [W/m^2]", "offset": 14}},
"text": {"field": "t"}}}
]},
{"width": 290, "height": 178.5, "data": {"name": "lw"}, "layer": [
{"mark": {"type": "area", "stroke": "#333333", "strokeWidth": 0.9}, "encoding": {
"x": {"field": "x", "type": "quantitative", "scale": {"domain": [1, 24], "nice": false, "zero": false}, "axis": {"values": [1,1.5,2,3,3.5,4,5,5.5,6,7,7.5,8,9,9.5,10,11,11.5,12,13,13.5,14,15,15.5,16,17,17.5,18,19,19.5,20,21,21.5,22,23,23.5,24], "labelExpr": "datum.value % 1 ? ['Jan','Feb','Mar','Apr','May','Jun','Jul','Aug','Sep','Oct','Nov','Dec'][(datum.value-1.5)/2] : ''", "labelOverlap": false, "tickOpacity": {"condition": {"test": "datum.value % 1 != 0", "value": 0}, "value": 1}, "title": "Month", "offset": 8}},
"y": {"field": "lo", "type": "quantitative", "scale": {"domain": [0, 165.1], "nice": false}, "axis": {"values": [0,20,40,60,80,100,120,140,160], "labelOverlap": false, "title": "Thermal radiation budget at surface [W/m^2]", "offset": 12}},
"y2": {"field": "hi"},
"color": {"datum": "+/- 1 St.dev."}}},
{"transform": [{"fold": ["m","c","-50%","-25%","-20%","-15%","-10%","+10%","+15%","+20%","+25%","+50%"], "as": ["s", "v"]}], "mark": {"type": "line", "point": {"filled": true, "size": 11}}, "encoding": {
"x": {"field": "x", "type": "quantitative", "axis": {"values": [1,1.5,2,3,3.5,4,5,5.5,6,7,7.5,8,9,9.5,10,11,11.5,12,13,13.5,14,15,15.5,16,17,17.5,18,19,19.5,20,21,21.5,22,23,23.5,24], "labelExpr": "datum.value % 1 ? ['Jan','Feb','Mar','Apr','May','Jun','Jul','Aug','Sep','Oct','Nov','Dec'][(datum.value-1.5)/2] : ''", "labelOverlap": false, "tickOpacity": {"condition": {"test": "datum.value % 1 != 0", "value": 0}, "value": 1}, "title": "Month", "offset": 8}},
"y": {"field": "v", "type": "quantitative", "axis": {"values": [0,20,40,60,80,100,120,140,160], "labelOverlap": false, "title": "Thermal radiation budget at surface [W/m^2]", "offset": 12}},
"strokeWidth": {"condition": {"test": "datum.s == 'c'", "value": 2.2}, "value": 1.1},
"color": {"field": "s", "type": "nominal", "scale": {"domain": ["c","+50%","+25%","+20%","+15%","+10%","-10%","-15%","-20%","-25%","-50%","m","+/- 1 St.dev."], "range": ["#1db34a","#2e3192","#1b62b4","#1ba1e2","#36bdd5","#85d2cf","#fff23a","#ffd400","#f8a51b","#f26a3b","#ec1c24","#222222","#dcdcdc"]}, "legend": {"orient": "none", "legendX": -1.5, "legendY": 7.25, "labelExpr": "datum.label == 'c' ? 'CTL 2003' : datum.label == 'm' ? 'CLIM 1970-2000' : datum.label"}}}},
{"data": {"values": [{"t": "Longwave net radiation at 12pm"}]}, "mark": {"type": "text", "fontSize": 12, "font": "Lato", "color": "#3c3c3c"}, "encoding": {
"x": {"datum": 10.4, "type": "quantitative", "axis": {"values": [1,1.5,2,3,3.5,4,5,5.5,6,7,7.5,8,9,9.5,10,11,11.5,12,13,13.5,14,15,15.5,16,17,17.5,18,19,19.5,20,21,21.5,22,23,23.5,24], "labelExpr": "datum.value % 1 ? ['Jan','Feb','Mar','Apr','May','Jun','Jul','Aug','Sep','Oct','Nov','Dec'][(datum.value-1.5)/2] : ''", "labelOverlap": false, "tickOpacity": {"condition": {"test": "datum.value % 1 != 0", "value": 0}, "value": 1}, "title": "Month", "offset": 8}},
"y": {"datum": 33.5, "type": "quantitative", "axis": {"values": [0,20,40,60,80,100,120,140,160], "labelOverlap": false, "title": "Thermal radiation budget at surface [W/m^2]", "offset": 12}},
"text": {"field": "t"}}}
]},
{"width": 291, "height": 174, "data": {"name": "le"}, "layer": [
{"mark": {"type": "area", "stroke": "#333333", "strokeWidth": 0.9}, "encoding": {
"x": {"field": "x", "type": "quantitative", "scale": {"domain": [1, 24], "nice": false, "zero": false}, "axis": {"values": [1,1.5,2,3,3.5,4,5,5.5,6,7,7.5,8,9,9.5,10,11,11.5,12,13,13.5,14,15,15.5,16,17,17.5,18,19,19.5,20,21,21.5,22,23,23.5,24], "labelExpr": "datum.value % 1 ? ['Jan','Feb','Mar','Apr','May','Jun','Jul','Aug','Sep','Oct','Nov','Dec'][(datum.value-1.5)/2] : ''", "labelOverlap": false, "tickOpacity": {"condition": {"test": "datum.value % 1 != 0", "value": 0}, "value": 1}, "title": "Month", "offset": 8}},
"y": {"field": "lo", "type": "quantitative", "scale": {"domain": [0, 400], "nice": false}, "axis": {"values": [0,50,100,150,200,250,300,350,400], "labelOverlap": false, "title": "Latent heat flux [W/m^2]", "offset": 14}},
"y2": {"field": "hi"},
"color": {"datum": "+/- 1 St.dev."}}},
{"transform": [{"fold": ["m","c","-50%","-25%","-20%","-15%","-10%","+10%","+15%","+20%","+25%","+50%"], "as": ["s", "v"]}], "mark": {"type": "line", "point": {"filled": true, "size": 11}}, "encoding": {
"x": {"field": "x", "type": "quantitative", "axis": {"values": [1,1.5,2,3,3.5,4,5,5.5,6,7,7.5,8,9,9.5,10,11,11.5,12,13,13.5,14,15,15.5,16,17,17.5,18,19,19.5,20,21,21.5,22,23,23.5,24], "labelExpr": "datum.value % 1 ? ['Jan','Feb','Mar','Apr','May','Jun','Jul','Aug','Sep','Oct','Nov','Dec'][(datum.value-1.5)/2] : ''", "labelOverlap": false, "tickOpacity": {"condition": {"test": "datum.value % 1 != 0", "value": 0}, "value": 1}, "title": "Month", "offset": 8}},
"y": {"field": "v", "type": "quantitative", "axis": {"values": [0,50,100,150,200,250,300,350,400], "labelOverlap": false, "title": "Latent heat flux [W/m^2]", "offset": 14}},
"strokeWidth": {"condition": {"test": "datum.s == 'c'", "value": 2.2}, "value": 1.1},
"color": {"field": "s", "type": "nominal", "scale": {"domain": ["c","+50%","+25%","+20%","+15%","+10%","-10%","-15%","-20%","-25%","-50%","m","+/- 1 St.dev."], "range": ["#1db34a","#2e3192","#1b62b4","#1ba1e2","#36bdd5","#85d2cf","#fff23a","#ffd400","#f8a51b","#f26a3b","#ec1c24","#222222","#dcdcdc"]}, "legend": {"orient": "none", "legendX": -6, "legendY": 2.8, "labelExpr": "datum.label == 'c' ? 'CTL 2003' : datum.label == 'm' ? 'CLIM 1970-2000' : datum.label"}}}},
{"data": {"values": [{"t": "Latent heat flux at 12pm"}]}, "mark": {"type": "text", "fontSize": 12, "font": "Lato", "color": "#3c3c3c"}, "encoding": {
"x": {"datum": 18.15, "type": "quantitative", "axis": {"values": [1,1.5,2,3,3.5,4,5,5.5,6,7,7.5,8,9,9.5,10,11,11.5,12,13,13.5,14,15,15.5,16,17,17.5,18,19,19.5,20,21,21.5,22,23,23.5,24], "labelExpr": "datum.value % 1 ? ['Jan','Feb','Mar','Apr','May','Jun','Jul','Aug','Sep','Oct','Nov','Dec'][(datum.value-1.5)/2] : ''", "labelOverlap": false, "tickOpacity": {"condition": {"test": "datum.value % 1 != 0", "value": 0}, "value": 1}, "title": "Month", "offset": 8}},
"y": {"datum": 319.5, "type": "quantitative", "axis": {"values": [0,50,100,150,200,250,300,350,400], "labelOverlap": false, "title": "Latent heat flux [W/m^2]", "offset": 14}},
"text": {"field": "t"}}}
]},
{"width": 290, "height": 174, "data": {"name": "h"}, "layer": [
{"mark": {"type": "area", "stroke": "#333333", "strokeWidth": 0.9}, "encoding": {
"x": {"field": "x", "type": "quantitative", "scale": {"domain": [1, 24], "nice": false, "zero": false}, "axis": {"values": [1,1.5,2,3,3.5,4,5,5.5,6,7,7.5,8,9,9.5,10,11,11.5,12,13,13.5,14,15,15.5,16,17,17.5,18,19,19.5,20,21,21.5,22,23,23.5,24], "labelExpr": "datum.value % 1 ? ['Jan','Feb','Mar','Apr','May','Jun','Jul','Aug','Sep','Oct','Nov','Dec'][(datum.value-1.5)/2] : ''", "labelOverlap": false, "tickOpacity": {"condition": {"test": "datum.value % 1 != 0", "value": 0}, "value": 1}, "title": "Month", "offset": 8}},
"y": {"field": "lo", "type": "quantitative", "scale": {"domain": [0, 400], "nice": false}, "axis": {"values": [0,50,100,150,200,250,300,350,400], "labelOverlap": false, "title": "Sensible heat flux [W/m^2]", "offset": 12}},
"y2": {"field": "hi"},
"color": {"datum": "+/- 1 St.dev."}}},
{"transform": [{"fold": ["m","c","-50%","-25%","-20%","-15%","-10%","+10%","+15%","+20%","+25%","+50%"], "as": ["s", "v"]}], "mark": {"type": "line", "point": {"filled": true, "size": 11}}, "encoding": {
"x": {"field": "x", "type": "quantitative", "axis": {"values": [1,1.5,2,3,3.5,4,5,5.5,6,7,7.5,8,9,9.5,10,11,11.5,12,13,13.5,14,15,15.5,16,17,17.5,18,19,19.5,20,21,21.5,22,23,23.5,24], "labelExpr": "datum.value % 1 ? ['Jan','Feb','Mar','Apr','May','Jun','Jul','Aug','Sep','Oct','Nov','Dec'][(datum.value-1.5)/2] : ''", "labelOverlap": false, "tickOpacity": {"condition": {"test": "datum.value % 1 != 0", "value": 0}, "value": 1}, "title": "Month", "offset": 8}},
"y": {"field": "v", "type": "quantitative", "axis": {"values": [0,50,100,150,200,250,300,350,400], "labelOverlap": false, "title": "Sensible heat flux [W/m^2]", "offset": 12}},
"strokeWidth": {"condition": {"test": "datum.s == 'c'", "value": 2.2}, "value": 1.1},
"color": {"field": "s", "type": "nominal", "scale": {"domain": ["c","+50%","+25%","+20%","+15%","+10%","-10%","-15%","-20%","-25%","-50%","m","+/- 1 St.dev."], "range": ["#1db34a","#2e3192","#1b62b4","#1ba1e2","#36bdd5","#85d2cf","#fff23a","#ffd400","#f8a51b","#f26a3b","#ec1c24","#222222","#dcdcdc"]}, "legend": {"orient": "none", "legendX": -1.5, "legendY": 2.8, "labelExpr": "datum.label == 'c' ? 'CTL 2003' : datum.label == 'm' ? 'CLIM 1970-2000' : datum.label"}}}},
{"data": {"values": [{"t": "Sensible heat flux at 12pm"}]}, "mark": {"type": "text", "fontSize": 12, "font": "Lato", "color": "#3c3c3c"}, "encoding": {
"x": {"datum": 11.2, "type": "quantitative", "axis": {"values": [1,1.5,2,3,3.5,4,5,5.5,6,7,7.5,8,9,9.5,10,11,11.5,12,13,13.5,14,15,15.5,16,17,17.5,18,19,19.5,20,21,21.5,22,23,23.5,24], "labelExpr": "datum.value % 1 ? ['Jan','Feb','Mar','Apr','May','Jun','Jul','Aug','Sep','Oct','Nov','Dec'][(datum.value-1.5)/2] : ''", "labelOverlap": false, "tickOpacity": {"condition": {"test": "datum.value % 1 != 0", "value": 0}, "value": 1}, "title": "Month", "offset": 8}},
"y": {"datum": 39, "type": "quantitative", "axis": {"values": [0,50,100,150,200,250,300,350,400], "labelOverlap": false, "title": "Sensible heat flux [W/m^2]", "offset": 12}},
"text": {"field": "t"}}}
]}
],
"config": {
"view": {"stroke": null},
"axis": {"grid": false, "domainColor": "#333333", "tickColor": "#333333", "labelColor": "#666666", "titleColor": "#555555", "labelFont": "Liberation Sans", "titleFont": "Liberation Sans", "labelFontSize": 6, "titleFontSize": 6, "titleFontWeight": "normal", "labelFlush": false, "labelOverlap": false, "domainWidth": 1, "tickWidth": 1},
"axisX": {"tickSize": 4, "labelPadding": 2, "titlePadding": 5},
"axisY": {"tickSize": 3.5, "labelPadding": 2, "titlePadding": 4, "labelAngle": -90, "labelAlign": "center", "labelBaseline": "bottom"},
"legend": {"title": null, "padding": 0, "symbolType": "M-3.7,0H3.7M0.67,0A0.67,0.67 0 1,1 -0.67,0A0.67,0.67 0 1,1 0.67,0Z", "symbolSize": 9, "symbolStrokeWidth": 1.2, "labelFontSize": 6, "labelFont": "Liberation Sans", "labelColor": "#555555", "labelOffset": 8, "rowPadding": -2.1, "symbolOpacity": 1}
}
}
